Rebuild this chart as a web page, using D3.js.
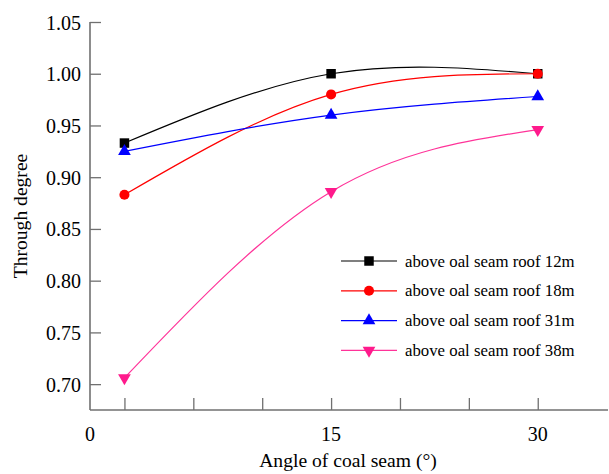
<!DOCTYPE html>
<html>
<head>
<meta charset="utf-8">
<script src="https://cdn.jsdelivr.net/npm/d3@7"></script>
<style>
  html, body { margin: 0; padding: 0; background: #fff; }
  svg { display: block; }
</style>
</head>
<body>
<svg id="chart" width="609" height="474" font-family="'Liberation Serif', 'Times New Roman', Times, serif"></svg>
<script>
// Coal seam dip angle (degrees) at which the through degree was measured
const angles = [0, 15, 30];

// Through degree for each height above the coal seam roof
const roof12m = [0.933, 1.000, 1.000];
const roof18m = [0.883, 0.980, 1.000];
const roof31m = [0.925, 0.960, 0.978];
const roof38m = [0.706, 0.886, 0.946];

const seriesNames = [
  "above oal seam roof 12m",
  "above oal seam roof 18m",
  "above oal seam roof 31m",
  "above oal seam roof 38m"
];

// Axis ticks
const yTicks = [0.70, 0.75, 0.80, 0.85, 0.90, 0.95, 1.00, 1.05];
const xMinorTicks = [0, 5, 10, 15, 20, 25, 30];
const xTickValues = [-2.5, 15, 30];
const xTickLabels = ["0", "15", "30"];

const series = [
  { name: seriesNames[0], values: roof12m, line: "#000000", fill: "#000000", symbol: d3.symbolSquare, size: 90, rot: 0 },
  { name: seriesNames[1], values: roof18m, line: "#ff0000", fill: "#ff0000", symbol: d3.symbolCircle, size: 80, rot: 0 },
  { name: seriesNames[2], values: roof31m, line: "#0000ff", fill: "#0000ff", symbol: d3.symbolTriangle, size: 70, rot: 0 },
  { name: seriesNames[3], values: roof38m, line: "#ff3399", fill: "#ff1a8c", symbol: d3.symbolTriangle, size: 70, rot: 180 }
];

const svg = d3.select("#chart");
const plotLeft = 90, plotRight = 608, plotTop = 22, plotBottom = 410;

const x = d3.scaleLinear().domain([-2.5, 35.1]).range([plotLeft, plotRight]);
const y = d3.scaleLinear().domain([0.675, 1.05]).range([plotBottom, plotTop]);

const axisColor = "#707070";
const serif = "'Liberation Serif', 'Times New Roman', Times, serif";

// Y axis: ticks point inward, labels on the left
const yAxis = svg.append("g").attr("transform", `translate(${plotLeft},0)`)
  .call(d3.axisRight(y).tickValues(yTicks).tickSize(11).tickFormat(d3.format(".2f")))
  .attr("font-family", serif).attr("font-size", 20);
yAxis.select(".domain").remove();
yAxis.selectAll("line").attr("stroke", axisColor).attr("stroke-width", 1.3);
yAxis.selectAll("text").attr("x", -9).attr("text-anchor", "end").attr("dy", "0.35em").attr("fill", "#000");
svg.append("line").attr("x1", plotLeft).attr("x2", plotLeft).attr("y1", y(1.05)).attr("y2", plotBottom)
  .attr("stroke", axisColor).attr("stroke-width", 1.6);

// X axis: minor ticks point inward, labels placed separately
const xAxis = svg.append("g").attr("transform", `translate(0,${plotBottom})`)
  .call(d3.axisTop(x).tickValues(xMinorTicks).tickSize(12).tickFormat(""));
xAxis.select(".domain").remove();
xAxis.selectAll("line").attr("stroke", axisColor).attr("stroke-width", 1.3);
svg.append("line").attr("x1", plotLeft).attr("x2", plotRight).attr("y1", plotBottom).attr("y2", plotBottom)
  .attr("stroke", axisColor).attr("stroke-width", 1.6);

svg.append("g").attr("font-family", serif).attr("font-size", 20)
  .selectAll("text").data(xTickValues).join("text")
  .attr("x", d => x(d)).attr("y", plotBottom + 31)
  .attr("text-anchor", "middle")
  .text((d, i) => xTickLabels[i]);

// Axis titles
svg.append("text").attr("x", 348).attr("y", 467).attr("text-anchor", "middle")
  .attr("font-family", serif).attr("font-size", 19.6).text("Angle of coal seam (°)");
svg.append("text").attr("transform", "translate(27,216) rotate(-90)")
  .attr("text-anchor", "middle").attr("font-family", serif).attr("font-size", 19.6).text("Through degree");

// Series curves and markers
const line = d3.line().x((d, i) => x(angles[i])).y(d => y(d)).curve(d3.curveNatural);

series.forEach(s => {
  svg.append("path").datum(s.values).attr("d", line)
    .attr("fill", "none").attr("stroke", s.line).attr("stroke-width", 1.2);
  svg.append("g").selectAll("path").data(s.values).join("path")
    .attr("d", d3.symbol().type(s.symbol).size(s.size))
    .attr("transform", (d, i) => `translate(${x(angles[i])},${y(d)}) rotate(${s.rot})`)
    .attr("fill", s.fill);
});

// Legend
const legend = svg.append("g").attr("font-family", serif).attr("font-size", 16.8);
series.forEach((s, i) => {
  const ly = 261 + i * 29.8;
  legend.append("line").attr("x1", 341).attr("x2", 397).attr("y1", ly).attr("y2", ly)
    .attr("stroke", s.line).attr("stroke-width", 1.2);
  legend.append("path").attr("d", d3.symbol().type(s.symbol).size(s.size))
    .attr("transform", `translate(369,${ly}) rotate(${s.rot})`).attr("fill", s.fill);
  legend.append("text").attr("x", 405).attr("y", ly).attr("dy", "0.33em")
    .text(s.name);
});
</script>
</body>
</html>
